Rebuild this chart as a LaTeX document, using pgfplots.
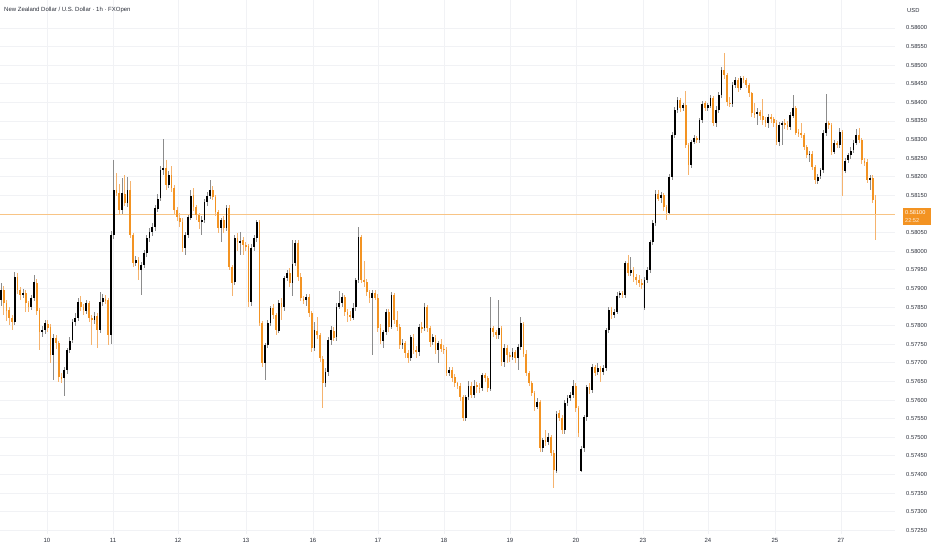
\documentclass[border=0pt]{standalone}
\usepackage{fontspec}
\setmainfont{Liberation Sans}
\usepackage{pgfplots}
\pgfplotsset{compat=1.18}
\usepackage{pgfplotstable}
\definecolor{cup}{HTML}{000000}
\definecolor{cdn}{HTML}{F39322}
\definecolor{wup}{HTML}{8C8C8C}
\definecolor{wdn}{HTML}{F5B36E}
\definecolor{gridc}{HTML}{F1F2F5}
\definecolor{txt}{HTML}{2A2E39}

\pgfplotstableread{
i o h l c
0 0.57869 0.57915 0.57855 0.57896
1 0.57896 0.57906 0.57829 0.57861
2 0.57861 0.57870 0.57815 0.57842
3 0.57842 0.57850 0.57802 0.57821
4 0.57821 0.57829 0.57788 0.57810
5 0.57810 0.57944 0.57802 0.57931
6 0.57931 0.57942 0.57885 0.57896
7 0.57896 0.57905 0.57870 0.57882
8 0.57882 0.57900 0.57875 0.57888
9 0.57888 0.57895 0.57837 0.57861
10 0.57861 0.57868 0.57838 0.57850
11 0.57850 0.57882 0.57842 0.57874
12 0.57874 0.57936 0.57868 0.57917
13 0.57917 0.57925 0.57830 0.57842
14 0.57842 0.57850 0.57735 0.57783
15 0.57783 0.57800 0.57770 0.57788
16 0.57788 0.57815 0.57778 0.57807
17 0.57807 0.57815 0.57785 0.57796
18 0.57796 0.57805 0.57700 0.57721
19 0.57721 0.57778 0.57654 0.57769
20 0.57769 0.57775 0.57740 0.57753
21 0.57753 0.57760 0.57650 0.57662
22 0.57662 0.57672 0.57645 0.57659
23 0.57659 0.57690 0.57614 0.57681
24 0.57681 0.57742 0.57672 0.57735
25 0.57735 0.57770 0.57728 0.57761
26 0.57761 0.57818 0.57752 0.57810
27 0.57810 0.57835 0.57800 0.57821
28 0.57821 0.57875 0.57812 0.57864
29 0.57864 0.57880 0.57840 0.57850
30 0.57850 0.57858 0.57830 0.57842
31 0.57842 0.57872 0.57832 0.57861
32 0.57861 0.57868 0.57810 0.57821
33 0.57821 0.57830 0.57748 0.57815
34 0.57815 0.57838 0.57805 0.57826
35 0.57826 0.57834 0.57740 0.57788
36 0.57788 0.57890 0.57780 0.57864
37 0.57864 0.57885 0.57855 0.57874
38 0.57874 0.57882 0.57860 0.57869
39 0.57869 0.57876 0.57748 0.57775
40 0.57775 0.58055 0.57750 0.58044
41 0.58044 0.58245 0.58035 0.58165
42 0.58165 0.58210 0.58148 0.58156
43 0.58156 0.58183 0.58100 0.58111
44 0.58111 0.58197 0.58102 0.58156
45 0.58156 0.58205 0.58122 0.58130
46 0.58130 0.58200 0.58120 0.58165
47 0.58165 0.58190 0.58035 0.58044
48 0.58044 0.58050 0.57958 0.57968
49 0.57968 0.57988 0.57960 0.57976
50 0.57976 0.57985 0.57923 0.57950
51 0.57950 0.57972 0.57882 0.57963
52 0.57963 0.58005 0.57955 0.57995
53 0.57995 0.58045 0.57985 0.58036
54 0.58036 0.58062 0.58025 0.58052
55 0.58052 0.58075 0.58040 0.58065
56 0.58065 0.58125 0.58055 0.58116
57 0.58116 0.58155 0.58105 0.58143
58 0.58143 0.58230 0.58135 0.58218
59 0.58218 0.58304 0.58205 0.58224
60 0.58224 0.58245 0.58165 0.58178
61 0.58178 0.58215 0.58170 0.58205
62 0.58205 0.58228 0.58160 0.58170
63 0.58170 0.58178 0.58100 0.58111
64 0.58111 0.58120 0.58080 0.58092
65 0.58092 0.58102 0.58065 0.58079
66 0.58079 0.58088 0.57998 0.58009
67 0.58009 0.58052 0.57990 0.58044
68 0.58044 0.58100 0.58035 0.58092
69 0.58092 0.58165 0.58085 0.58151
70 0.58151 0.58170 0.58110 0.58119
71 0.58119 0.58125 0.58085 0.58097
72 0.58097 0.58105 0.58060 0.58079
73 0.58079 0.58095 0.58045 0.58084
74 0.58084 0.58140 0.58075 0.58132
75 0.58132 0.58160 0.58122 0.58148
76 0.58148 0.58191 0.58140 0.58165
77 0.58165 0.58175 0.58138 0.58146
78 0.58146 0.58152 0.58095 0.58105
79 0.58105 0.58110 0.58050 0.58062
80 0.58062 0.58090 0.58025 0.58084
81 0.58084 0.58095 0.58050 0.58062
82 0.58062 0.58124 0.58055 0.58116
83 0.58116 0.58124 0.57950 0.57958
84 0.57958 0.57965 0.57882 0.57917
85 0.57917 0.58045 0.57910 0.58036
86 0.58036 0.58050 0.58000 0.58025
87 0.58025 0.58052 0.57990 0.58030
88 0.58030 0.58040 0.57990 0.58017
89 0.58017 0.58025 0.58000 0.58014
90 0.58014 0.58020 0.57850 0.57864
91 0.57864 0.58020 0.57855 0.58011
92 0.58011 0.58045 0.58000 0.58036
93 0.58036 0.58085 0.58025 0.58079
94 0.58079 0.58085 0.57800 0.57807
95 0.57807 0.57815 0.57690 0.57700
96 0.57700 0.57755 0.57654 0.57748
97 0.57748 0.57815 0.57740 0.57807
98 0.57807 0.57855 0.57800 0.57847
99 0.57847 0.57858 0.57820 0.57829
100 0.57829 0.57835 0.57775 0.57788
101 0.57788 0.57870 0.57780 0.57861
102 0.57861 0.57875 0.57815 0.57850
103 0.57850 0.57935 0.57842 0.57928
104 0.57928 0.57950 0.57920 0.57942
105 0.57942 0.57955 0.57905 0.57915
106 0.57915 0.58030 0.57880 0.57968
107 0.57968 0.58030 0.57960 0.58022
108 0.58022 0.58030 0.57920 0.57931
109 0.57931 0.57940 0.57865 0.57874
110 0.57874 0.57880 0.57860 0.57869
111 0.57869 0.57885 0.57855 0.57877
112 0.57877 0.57885 0.57825 0.57834
113 0.57834 0.57840 0.57730 0.57740
114 0.57740 0.57810 0.57732 0.57788
115 0.57788 0.57825 0.57765 0.57775
116 0.57775 0.57782 0.57705 0.57713
117 0.57713 0.57720 0.57581 0.57646
118 0.57646 0.57685 0.57635 0.57675
119 0.57675 0.57770 0.57665 0.57761
120 0.57761 0.57800 0.57750 0.57788
121 0.57788 0.57796 0.57760 0.57769
122 0.57769 0.57860 0.57760 0.57850
123 0.57850 0.57895 0.57845 0.57861
124 0.57861 0.57888 0.57850 0.57877
125 0.57877 0.57885 0.57828 0.57837
126 0.57837 0.57845 0.57810 0.57829
127 0.57829 0.57840 0.57815 0.57823
128 0.57823 0.57860 0.57815 0.57850
129 0.57850 0.57930 0.57840 0.57923
130 0.57923 0.58065 0.57915 0.58038
131 0.58038 0.58045 0.57915 0.57923
132 0.57923 0.57976 0.57905 0.57917
133 0.57917 0.57925 0.57880 0.57890
134 0.57890 0.57895 0.57862 0.57874
135 0.57874 0.57895 0.57721 0.57888
136 0.57888 0.57895 0.57868 0.57877
137 0.57877 0.57885 0.57785 0.57796
138 0.57796 0.57805 0.57750 0.57761
139 0.57761 0.57790 0.57740 0.57783
140 0.57783 0.57845 0.57775 0.57837
141 0.57837 0.57845 0.57785 0.57796
142 0.57796 0.57890 0.57790 0.57882
143 0.57882 0.57888 0.57805 0.57815
144 0.57815 0.57840 0.57785 0.57796
145 0.57796 0.57805 0.57740 0.57748
146 0.57748 0.57765 0.57740 0.57753
147 0.57753 0.57760 0.57715 0.57726
148 0.57726 0.57735 0.57700 0.57713
149 0.57713 0.57775 0.57705 0.57769
150 0.57769 0.57780 0.57725 0.57735
151 0.57735 0.57745 0.57715 0.57729
152 0.57729 0.57805 0.57720 0.57796
153 0.57796 0.57810 0.57780 0.57794
154 0.57794 0.57860 0.57785 0.57850
155 0.57850 0.57858 0.57785 0.57794
156 0.57794 0.57800 0.57745 0.57756
157 0.57756 0.57778 0.57748 0.57769
158 0.57769 0.57775 0.57725 0.57735
159 0.57735 0.57760 0.57700 0.57753
160 0.57753 0.57765 0.57730 0.57740
161 0.57740 0.57750 0.57725 0.57735
162 0.57735 0.57742 0.57665 0.57675
163 0.57675 0.57690 0.57665 0.57681
164 0.57681 0.57690 0.57650 0.57662
165 0.57662 0.57670 0.57635 0.57646
166 0.57646 0.57650 0.57630 0.57640
167 0.57640 0.57648 0.57598 0.57608
168 0.57608 0.57615 0.57545 0.57554
169 0.57554 0.57615 0.57545 0.57608
170 0.57608 0.57650 0.57600 0.57640
171 0.57640 0.57648 0.57605 0.57614
172 0.57614 0.57655 0.57605 0.57640
173 0.57640 0.57650 0.57620 0.57635
174 0.57635 0.57645 0.57620 0.57632
175 0.57632 0.57675 0.57625 0.57667
176 0.57667 0.57672 0.57648 0.57659
177 0.57659 0.57665 0.57622 0.57632
178 0.57632 0.57877 0.57625 0.57794
179 0.57794 0.57800 0.57770 0.57783
180 0.57783 0.57790 0.57765 0.57775
181 0.57775 0.57869 0.57765 0.57794
182 0.57794 0.57800 0.57692 0.57702
183 0.57702 0.57750 0.57690 0.57740
184 0.57740 0.57748 0.57700 0.57721
185 0.57721 0.57730 0.57705 0.57716
186 0.57716 0.57740 0.57708 0.57729
187 0.57729 0.57735 0.57700 0.57713
188 0.57713 0.57750 0.57681 0.57743
189 0.57743 0.57823 0.57735 0.57807
190 0.57807 0.57812 0.57718 0.57726
191 0.57726 0.57735 0.57665 0.57673
192 0.57673 0.57680 0.57638 0.57646
193 0.57646 0.57652 0.57610 0.57619
194 0.57619 0.57625 0.57572 0.57581
195 0.57581 0.57605 0.57575 0.57595
196 0.57595 0.57600 0.57462 0.57471
197 0.57471 0.57500 0.57462 0.57493
198 0.57493 0.57520 0.57478 0.57487
199 0.57487 0.57512 0.57480 0.57501
200 0.57501 0.57508 0.57450 0.57458
201 0.57458 0.57465 0.57364 0.57412
202 0.57412 0.57572 0.57405 0.57565
203 0.57565 0.57575 0.57545 0.57552
204 0.57552 0.57560 0.57510 0.57519
205 0.57519 0.57600 0.57510 0.57592
206 0.57592 0.57615 0.57585 0.57606
207 0.57606 0.57622 0.57598 0.57614
208 0.57614 0.57655 0.57605 0.57640
209 0.57640 0.57648 0.57570 0.57579
210 0.57579 0.57585 0.57500 0.57514
211 0.57412 0.57478 0.57407 0.57471
212 0.57471 0.57560 0.57462 0.57554
213 0.57554 0.57642 0.57545 0.57635
214 0.57635 0.57645 0.57618 0.57627
215 0.57627 0.57698 0.57620 0.57689
216 0.57689 0.57695 0.57665 0.57675
217 0.57675 0.57700 0.57668 0.57686
218 0.57686 0.57692 0.57650 0.57675
219 0.57675 0.57695 0.57668 0.57686
220 0.57686 0.57795 0.57680 0.57788
221 0.57788 0.57850 0.57780 0.57842
222 0.57842 0.57850 0.57820 0.57829
223 0.57829 0.57845 0.57820 0.57837
224 0.57837 0.57890 0.57830 0.57882
225 0.57882 0.57895 0.57875 0.57888
226 0.57888 0.57895 0.57875 0.57882
227 0.57882 0.57975 0.57875 0.57968
228 0.57968 0.57990 0.57935 0.57942
229 0.57942 0.57985 0.57935 0.57950
230 0.57950 0.57958 0.57918 0.57931
231 0.57931 0.57938 0.57910 0.57923
232 0.57923 0.57935 0.57905 0.57915
233 0.57915 0.57925 0.57900 0.57909
234 0.57847 0.57930 0.57842 0.57923
235 0.57923 0.57958 0.57915 0.57950
236 0.57950 0.58032 0.57942 0.58025
237 0.58025 0.58085 0.58018 0.58076
238 0.58076 0.58165 0.58070 0.58156
239 0.58156 0.58165 0.58135 0.58143
240 0.58143 0.58160 0.58130 0.58151
241 0.58151 0.58158 0.58110 0.58119
242 0.58119 0.58125 0.58084 0.58105
243 0.58105 0.58208 0.58098 0.58200
244 0.58200 0.58320 0.58192 0.58312
245 0.58312 0.58388 0.58305 0.58380
246 0.58380 0.58415 0.58372 0.58407
247 0.58407 0.58412 0.58375 0.58385
248 0.58385 0.58400 0.58378 0.58393
249 0.58393 0.58433 0.58278 0.58286
250 0.58286 0.58292 0.58205 0.58232
251 0.58232 0.58300 0.58225 0.58294
252 0.58294 0.58312 0.58288 0.58304
253 0.58304 0.58310 0.58290 0.58299
254 0.58299 0.58360 0.58292 0.58353
255 0.58353 0.58405 0.58345 0.58398
256 0.58398 0.58405 0.58378 0.58385
257 0.58385 0.58400 0.58378 0.58393
258 0.58393 0.58420 0.58385 0.58412
259 0.58412 0.58418 0.58338 0.58345
260 0.58345 0.58390 0.58335 0.58380
261 0.58380 0.58428 0.58372 0.58420
262 0.58420 0.58495 0.58412 0.58487
263 0.58487 0.58533 0.58465 0.58474
264 0.58474 0.58480 0.58392 0.58401
265 0.58401 0.58415 0.58390 0.58398
266 0.58398 0.58455 0.58390 0.58447
267 0.58447 0.58468 0.58440 0.58460
268 0.58460 0.58466 0.58430 0.58439
269 0.58439 0.58472 0.58432 0.58466
270 0.58466 0.58470 0.58452 0.58460
271 0.58460 0.58466 0.58440 0.58447
272 0.58447 0.58452 0.58415 0.58425
273 0.58425 0.58430 0.58362 0.58372
274 0.58372 0.58400 0.58360 0.58369
275 0.58369 0.58385 0.58340 0.58374
276 0.58374 0.58380 0.58355 0.58364
277 0.58364 0.58410 0.58340 0.58353
278 0.58353 0.58360 0.58335 0.58345
279 0.58345 0.58370 0.58330 0.58361
280 0.58361 0.58370 0.58345 0.58355
281 0.58355 0.58362 0.58335 0.58345
282 0.58345 0.58352 0.58285 0.58294
283 0.58294 0.58347 0.58285 0.58339
284 0.58339 0.58352 0.58286 0.58345
285 0.58345 0.58355 0.58330 0.58339
286 0.58339 0.58350 0.58325 0.58334
287 0.58334 0.58375 0.58325 0.58366
288 0.58366 0.58420 0.58358 0.58385
289 0.58385 0.58392 0.58312 0.58320
290 0.58320 0.58330 0.58308 0.58318
291 0.58318 0.58345 0.58305 0.58312
292 0.58312 0.58318 0.58272 0.58280
293 0.58280 0.58285 0.58250 0.58259
294 0.58259 0.58270 0.58240 0.58262
295 0.58262 0.58268 0.58218 0.58226
296 0.58226 0.58232 0.58183 0.58191
297 0.58191 0.58210 0.58183 0.58202
298 0.58202 0.58225 0.58195 0.58218
299 0.58218 0.58325 0.58210 0.58318
300 0.58318 0.58425 0.58310 0.58345
301 0.58345 0.58352 0.58330 0.58339
302 0.58339 0.58345 0.58258 0.58267
303 0.58267 0.58300 0.58260 0.58291
304 0.58291 0.58298 0.58278 0.58286
305 0.58286 0.58330 0.58278 0.58320
306 0.58320 0.58328 0.58151 0.58218
307 0.58218 0.58252 0.58210 0.58245
308 0.58245 0.58265 0.58238 0.58259
309 0.58259 0.58280 0.58250 0.58272
310 0.58272 0.58300 0.58265 0.58291
311 0.58291 0.58330 0.58285 0.58312
312 0.58312 0.58330 0.58290 0.58299
313 0.58299 0.58305 0.58235 0.58245
314 0.58245 0.58250 0.58230 0.58240
315 0.58240 0.58248 0.58183 0.58191
316 0.58191 0.58205 0.58165 0.58197
317 0.58197 0.58205 0.58130 0.58138
318 0.58138 0.58151 0.58030 0.58100
}\candles

\begin{document}
\begin{tikzpicture}
\begin{axis}[
  at={(0pt,0pt)}, anchor=north west,
  scale only axis, width=895pt, height=534pt,
  xmin=-0.36, xmax=325.1, ymin=0.5724, ymax=0.58675,
  axis line style={draw=none},
  major tick length=0pt,
  xtick={16.73,40.73,64.36,89.09,113.45,137.09,161.09,185.09,209.09,233.45,257.09,281.45,305.45},
  xticklabels={10,11,12,13,16,17,18,19,20,23,24,25,27},
  ytick={0.5725,0.573,0.5735,0.574,0.5745,0.575,0.5755,0.576,0.5765,0.577,0.5775,0.578,0.5785,0.579,0.5795,0.58,0.5805,0.5815,0.582,0.5825,0.583,0.5835,0.584,0.5845,0.585,0.5855,0.586},
  scaled y ticks=false,
  yticklabel pos=right,
  /pgf/number format/assume math mode=true,
  yticklabel style={/pgf/number format/fixed, /pgf/number format/fixed zerofill, /pgf/number format/precision=5, anchor=west, inner sep=0pt, xshift=11pt, font=\fontsize{5.8}{7}\selectfont, text=txt},
  xticklabel style={anchor=north, inner sep=0pt, yshift=-4.5pt, font=\fontsize{6}{7}\selectfont, text=txt},
  grid=major, major grid style={draw=gridc, line width=0.8pt},
]
% wicks
\addplot[draw=none, mark=none, forget plot,
  error bars/.cd, y dir=both, y explicit, error mark=none,
  error bar style={line width=0.7pt, draw=wup}]
  table[x=i, y expr={\thisrow{c}>=\thisrow{o} ? (\thisrow{h}+\thisrow{l})/2 : nan},
        y error plus expr={(\thisrow{h}-\thisrow{l})/2},
        y error minus expr={(\thisrow{h}-\thisrow{l})/2}] {\candles};
\addplot[draw=none, mark=none, forget plot,
  error bars/.cd, y dir=both, y explicit, error mark=none,
  error bar style={line width=0.7pt, draw=wdn}]
  table[x=i, y expr={\thisrow{c}<\thisrow{o} ? (\thisrow{h}+\thisrow{l})/2 : nan},
        y error plus expr={(\thisrow{h}-\thisrow{l})/2},
        y error minus expr={(\thisrow{h}-\thisrow{l})/2}] {\candles};
% current price line
\addplot[cdn!55, line width=0.4pt, mark=none, forget plot] coordinates {(-0.36,0.581) (325.1,0.581)};
% bodies
\addplot[draw=none, mark=none, forget plot,
  error bars/.cd, y dir=both, y explicit, error mark=none,
  error bar style={line width=1.9pt, draw=cup}]
  table[x=i, y expr={\thisrow{c}>=\thisrow{o} ? (\thisrow{o}+\thisrow{c})/2 : nan},
        y error plus expr={abs(\thisrow{c}-\thisrow{o})/2},
        y error minus expr={abs(\thisrow{c}-\thisrow{o})/2}] {\candles};
\addplot[draw=none, mark=none, forget plot,
  error bars/.cd, y dir=both, y explicit, error mark=none,
  error bar style={line width=1.9pt, draw=cdn}]
  table[x=i, y expr={\thisrow{c}<\thisrow{o} ? (\thisrow{o}+\thisrow{c})/2 : nan},
        y error plus expr={abs(\thisrow{c}-\thisrow{o})/2},
        y error minus expr={abs(\thisrow{c}-\thisrow{o})/2}] {\candles};
\end{axis}
% title and labels
\node[anchor=west, inner sep=0pt, font=\fontsize{6}{7}\selectfont, text=txt] at (4pt,-10pt)
  {New Zealand Dollar / U.S. Dollar · 1h · FXOpen};
\node[anchor=west, inner sep=0pt, font=\fontsize{5.8}{7}\selectfont, text=txt] at (907pt,-10pt) {USD};
\fill[cdn] (903pt,-207.5pt) rectangle (930.5pt,-224.5pt);
\node[anchor=west, inner sep=0pt, font=\fontsize{5.6}{6.5}\selectfont, text=white] at (905pt,-213pt) {0.58100};
\node[anchor=west, inner sep=0pt, font=\fontsize{5.6}{6.5}\selectfont, text=white!85!cdn] at (905pt,-220.5pt) {22:52};
\pgfresetboundingbox
\path[use as bounding box] (0pt,0pt) rectangle (932pt,-550pt);
\end{tikzpicture}
\end{document}
